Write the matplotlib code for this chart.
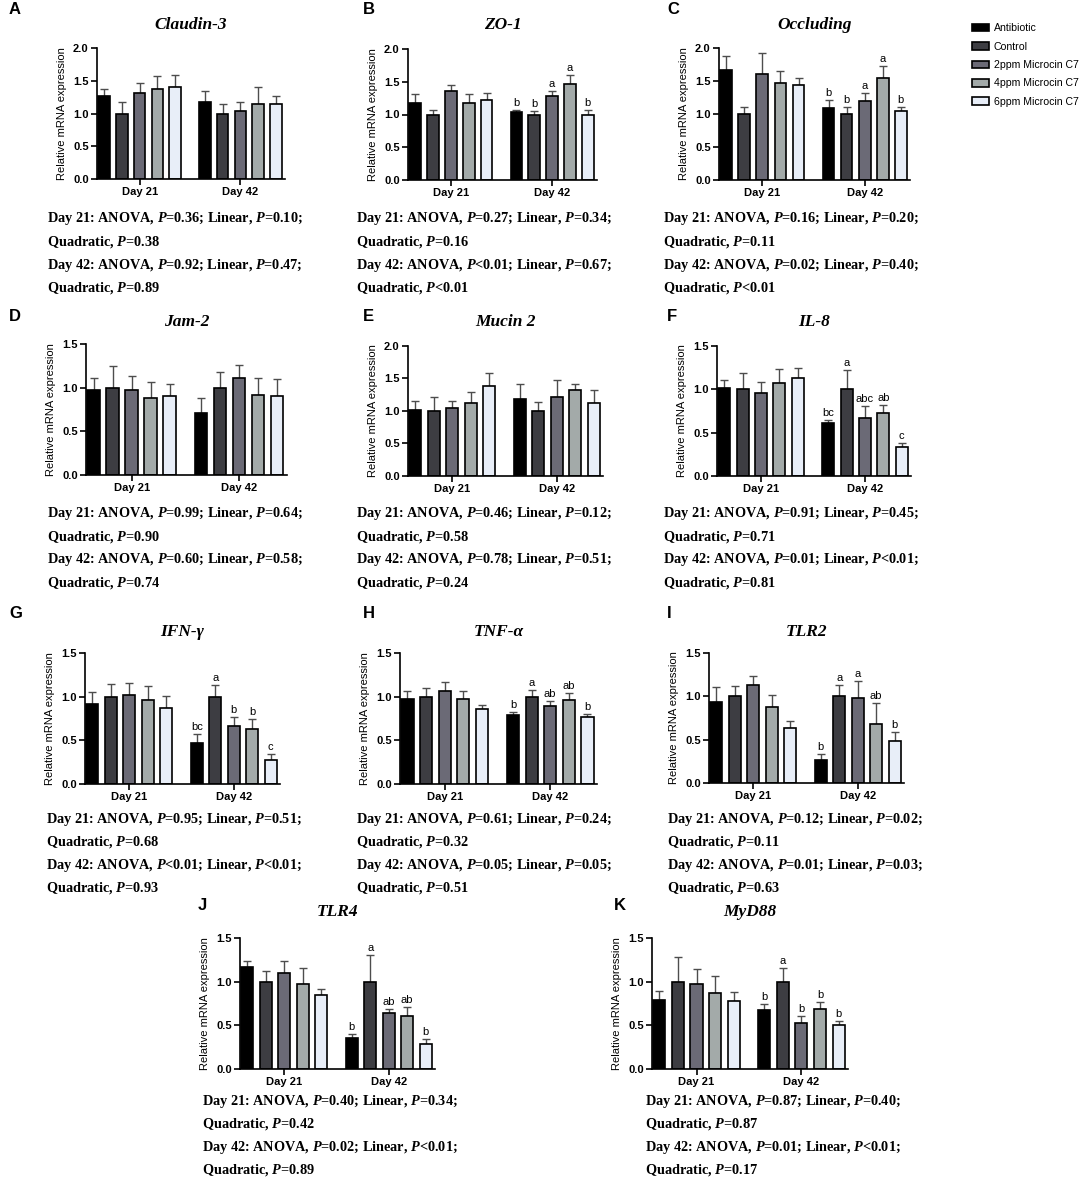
import numpy as np
import matplotlib
matplotlib.use('Agg')
import matplotlib.pyplot as plt
from matplotlib.patches import Patch

plt.rcParams['font.family'] = ['Liberation Sans', 'DejaVu Sans']
plt.rcParams['mathtext.fontset'] = 'custom'
plt.rcParams['mathtext.rm'] = 'Liberation Serif:bold'
plt.rcParams['mathtext.it'] = 'Liberation Serif:bold:italic'
plt.rcParams['mathtext.bf'] = 'Liberation Serif:bold'

# ---------------- data ----------------
groups = ['Antibiotic', 'Control', '2ppm Microcin C7', '4ppm Microcin C7', '6ppm Microcin C7']
days = ['Day 21', 'Day 42']

claudin3_d21 = [1.26, 1.00, 1.32, 1.37, 1.40]
claudin3_d21_sem = [0.11, 0.17, 0.14, 0.21, 0.19]
claudin3_d42 = [1.18, 1.00, 1.04, 1.15, 1.15]
claudin3_d42_sem = [0.16, 0.14, 0.13, 0.25, 0.12]
claudin3_letters = ['', '', '', '', '']

zo1_d21 = [1.18, 1.00, 1.36, 1.17, 1.22]
zo1_d21_sem = [0.13, 0.07, 0.09, 0.14, 0.11]
zo1_d42 = [1.04, 1.00, 1.28, 1.46, 1.00]
zo1_d42_sem = [0.03, 0.06, 0.08, 0.14, 0.07]
zo1_letters = ['b', 'b', 'a', 'a', 'b']

occ_d21 = [1.67, 1.00, 1.61, 1.47, 1.44]
occ_d21_sem = [0.21, 0.11, 0.31, 0.18, 0.11]
occ_d42 = [1.09, 1.00, 1.20, 1.54, 1.04]
occ_d42_sem = [0.12, 0.10, 0.12, 0.19, 0.06]
occ_letters = ['b', 'b', 'a', 'a', 'b']

jam2_d21 = [0.97, 1.00, 0.97, 0.88, 0.90]
jam2_d21_sem = [0.14, 0.25, 0.16, 0.18, 0.14]
jam2_d42 = [0.71, 1.00, 1.11, 0.92, 0.91]
jam2_d42_sem = [0.17, 0.18, 0.15, 0.19, 0.19]
jam2_letters = ['', '', '', '', '']

muc2_d21 = [1.01, 1.00, 1.05, 1.13, 1.38]
muc2_d21_sem = [0.15, 0.22, 0.10, 0.16, 0.21]
muc2_d42 = [1.19, 1.00, 1.22, 1.32, 1.13]
muc2_d42_sem = [0.23, 0.14, 0.25, 0.10, 0.19]
muc2_letters = ['', '', '', '', '']

il8_d21 = [1.02, 1.00, 0.96, 1.07, 1.13]
il8_d21_sem = [0.09, 0.19, 0.13, 0.16, 0.12]
il8_d42 = [0.61, 1.00, 0.67, 0.73, 0.34]
il8_d42_sem = [0.04, 0.22, 0.14, 0.09, 0.04]
il8_letters = ['bc', 'a', 'abc', 'ab', 'c']

ifng_d21 = [0.92, 1.00, 1.02, 0.96, 0.87]
ifng_d21_sem = [0.13, 0.15, 0.14, 0.16, 0.14]
ifng_d42 = [0.47, 1.00, 0.66, 0.63, 0.28]
ifng_d42_sem = [0.10, 0.13, 0.11, 0.12, 0.06]
ifng_letters = ['bc', 'a', 'b', 'b', 'c']

tnfa_d21 = [0.97, 1.00, 1.07, 0.97, 0.86]
tnfa_d21_sem = [0.09, 0.10, 0.10, 0.09, 0.05]
tnfa_d42 = [0.79, 1.00, 0.89, 0.96, 0.77]
tnfa_d42_sem = [0.04, 0.08, 0.06, 0.08, 0.03]
tnfa_letters = ['b', 'a', 'ab', 'ab', 'b']

tlr2_d21 = [0.93, 1.00, 1.13, 0.88, 0.64]
tlr2_d21_sem = [0.18, 0.12, 0.11, 0.14, 0.08]
tlr2_d42 = [0.27, 1.00, 0.98, 0.68, 0.49]
tlr2_d42_sem = [0.07, 0.13, 0.20, 0.24, 0.10]
tlr2_letters = ['b', 'a', 'a', 'ab', 'b']

tlr4_d21 = [1.17, 1.00, 1.10, 0.97, 0.85]
tlr4_d21_sem = [0.07, 0.12, 0.14, 0.19, 0.07]
tlr4_d42 = [0.35, 1.00, 0.64, 0.61, 0.29]
tlr4_d42_sem = [0.05, 0.31, 0.05, 0.10, 0.05]
tlr4_letters = ['b', 'a', 'ab', 'ab', 'b']

myd88_d21 = [0.79, 1.00, 0.97, 0.87, 0.78]
myd88_d21_sem = [0.10, 0.28, 0.17, 0.19, 0.10]
myd88_d42 = [0.67, 1.00, 0.53, 0.69, 0.50]
myd88_d42_sem = [0.08, 0.16, 0.08, 0.08, 0.05]
myd88_letters = ['b', 'a', 'b', 'b', 'b']

stats_claudin3 = ["Day 21: ANOVA, $P$=0.36; Linear, $P$=0.10;", "Quadratic, $P$=0.38",
                  "Day 42: ANOVA, $P$=0.92; Linear, $P$=0.47;", "Quadratic, $P$=0.89"]
stats_zo1 = ["Day 21: ANOVA, $P$=0.27; Linear, $P$=0.34;", "Quadratic, $P$=0.16",
             "Day 42: ANOVA, $P$<0.01; Linear, $P$=0.67;", "Quadratic, $P$<0.01"]
stats_occ = ["Day 21: ANOVA, $P$=0.16; Linear, $P$=0.20;", "Quadratic, $P$=0.11",
             "Day 42: ANOVA, $P$=0.02; Linear, $P$=0.40;", "Quadratic, $P$<0.01"]
stats_jam2 = ["Day 21: ANOVA, $P$=0.99; Linear, $P$=0.64;", "Quadratic, $P$=0.90",
              "Day 42: ANOVA, $P$=0.60; Linear, $P$=0.58;", "Quadratic, $P$=0.74"]
stats_muc2 = ["Day 21: ANOVA, $P$=0.46; Linear, $P$=0.12;", "Quadratic, $P$=0.58",
              "Day 42: ANOVA, $P$=0.78; Linear, $P$=0.51;", "Quadratic, $P$=0.24"]
stats_il8 = ["Day 21: ANOVA, $P$=0.91; Linear, $P$=0.45;", "Quadratic, $P$=0.71",
             "Day 42: ANOVA, $P$=0.01; Linear, $P$<0.01;", "Quadratic, $P$=0.81"]
stats_ifng = ["Day 21: ANOVA, $P$=0.95; Linear, $P$=0.51;", "Quadratic, $P$=0.68",
              "Day 42: ANOVA, $P$<0.01; Linear, $P$<0.01;", "Quadratic, $P$=0.93"]
stats_tnfa = ["Day 21: ANOVA, $P$=0.61; Linear, $P$=0.24;", "Quadratic, $P$=0.32",
              "Day 42: ANOVA, $P$=0.05; Linear, $P$=0.05;", "Quadratic, $P$=0.51"]
stats_tlr2 = ["Day 21: ANOVA, $P$=0.12; Linear, $P$=0.02;", "Quadratic, $P$=0.11",
              "Day 42: ANOVA, $P$=0.01; Linear, $P$=0.03;", "Quadratic, $P$=0.63"]
stats_tlr4 = ["Day 21: ANOVA, $P$=0.40; Linear, $P$=0.34;", "Quadratic, $P$=0.42",
              "Day 42: ANOVA, $P$=0.02; Linear, $P$<0.01;", "Quadratic, $P$=0.89"]
stats_myd88 = ["Day 21: ANOVA, $P$=0.87; Linear, $P$=0.40;", "Quadratic, $P$=0.87",
               "Day 42: ANOVA, $P$=0.01; Linear, $P$<0.01;", "Quadratic, $P$=0.17"]

colors = ['#000000', '#3d3d42', '#6b6a76', '#a3aaa9', '#e8eef8']

W, H = 1084, 1182
fig = plt.figure(figsize=(W / 100, H / 100), dpi=100)

# layout (pixel boxes: left, top, right, bottom), title y, letter pos, text x, text y
panels = [
    ('A', 'Claudin-3', claudin3_d21, claudin3_d21_sem, claudin3_d42, claudin3_d42_sem, claudin3_letters, 2.0,
     (97, 48, 285, 179), 25, (9, 10), stats_claudin3, (47, 219)),
    ('B', 'ZO-1', zo1_d21, zo1_d21_sem, zo1_d42, zo1_d42_sem, zo1_letters, 2.0,
     (408, 49, 597, 180), 25, (363, 10), stats_zo1, (356, 219)),
    ('C', 'Occluding', occ_d21, occ_d21_sem, occ_d42, occ_d42_sem, occ_letters, 2.0,
     (719, 48, 910, 180), 25, (667, 10), stats_occ, (663, 219)),
    ('D', 'Jam-2', jam2_d21, jam2_d21_sem, jam2_d42, jam2_d42_sem, jam2_letters, 1.5,
     (86, 344, 287, 475), 322, (9, 316), stats_jam2, (47, 514)),
    ('E', 'Mucin 2', muc2_d21, muc2_d21_sem, muc2_d42, muc2_d42_sem, muc2_letters, 2.0,
     (408, 346, 603, 476), 322, (363, 316), stats_muc2, (356, 514)),
    ('F', 'IL-8', il8_d21, il8_d21_sem, il8_d42, il8_d42_sem, il8_letters, 1.5,
     (717, 346, 911, 476), 322, (667, 316), stats_il8, (663, 514)),
    ('G', 'IFN-γ', ifng_d21, ifng_d21_sem, ifng_d42, ifng_d42_sem, ifng_letters, 1.5,
     (85, 653, 280, 784), 632, (9, 613), stats_ifng, (46, 819)),
    ('H', 'TNF-α', tnfa_d21, tnfa_d21_sem, tnfa_d42, tnfa_d42_sem, tnfa_letters, 1.5,
     (400, 653, 597, 784), 632, (363, 613), stats_tnfa, (356, 819)),
    ('I', 'TLR2', tlr2_d21, tlr2_d21_sem, tlr2_d42, tlr2_d42_sem, tlr2_letters, 1.5,
     (709, 653, 904, 783), 632, (667, 613), stats_tlr2, (667, 819)),
    ('J', 'TLR4', tlr4_d21, tlr4_d21_sem, tlr4_d42, tlr4_d42_sem, tlr4_letters, 1.5,
     (240, 938, 435, 1069), 912, (198, 905), stats_tlr4, (202, 1101)),
    ('K', 'MyD88', myd88_d21, myd88_d21_sem, myd88_d42, myd88_d42_sem, myd88_letters, 1.5,
     (652, 938, 848, 1069), 912, (614, 905), stats_myd88, (645, 1101)),
]

group_centers = [0.0, 5.66]
bar_w = 0.65

for (plab, title, m21, s21, m42, s42, lets, ymax, box, ty, lpos, stats, tpos) in panels:
    l, t, r, b = box
    ax = fig.add_axes([l / W, 1 - b / H, (r - l) / W, (b - t) / H])
    for gi, (means, sems) in enumerate([(m21, s21), (m42, s42)]):
        x = group_centers[gi] + np.arange(5) - 2
        means = np.array(means)
        sems = np.array(sems)
        ax.errorbar(x, means, yerr=[np.zeros(5), sems], fmt='none', ecolor='#4d4d4d',
                    elinewidth=1.0, capsize=3.2, capthick=1.0, zorder=1)
        ax.bar(x, means, width=bar_w, color=colors, edgecolor='black', linewidth=1.2, zorder=2)
        if gi == 1:
            for xi, mi, si, lt in zip(x, means, sems, lets):
                if lt:
                    ax.text(xi, mi + si + 0.015 * ymax, lt, ha='center', va='bottom',
                            fontsize=8, family=['Liberation Sans', 'DejaVu Sans'])
    ax.set_xlim(-2.40, 8.17)
    ax.set_ylim(0, ymax)
    ax.set_yticks(np.arange(0, ymax + 0.01, 0.5))
    ax.set_yticklabels(['%.1f' % v for v in np.arange(0, ymax + 0.01, 0.5)],
                       fontsize=8, fontweight='bold')
    ax.set_xticks(group_centers)
    ax.set_xticklabels(days, fontsize=8, fontweight='bold')
    for sp in ['top', 'right']:
        ax.spines[sp].set_visible(False)
    for sp in ['left', 'bottom']:
        ax.spines[sp].set_linewidth(1.2)
    ax.tick_params(direction='out', length=4, width=1.2, pad=2)
    ax.set_ylabel('Relative mRNA expression', fontsize=8, labelpad=4)
    cx = (l + r) / 2
    fig.text(cx / W, 1 - ty / H, title, ha='center', va='center', fontsize=12.5,
             family='Liberation Serif', fontweight='bold', fontstyle='italic')
    fig.text(lpos[0] / W, 1 - lpos[1] / H, plab, ha='left', va='center', fontsize=12,
             fontweight='bold')
    for k, line in enumerate(stats):
        fig.text(tpos[0] / W, 1 - (tpos[1] + 23 * k) / H, line, ha='left', va='center',
                 fontsize=10.3, family='Liberation Serif', fontweight='bold')

handles = [Patch(facecolor=c, edgecolor='black', linewidth=1.2) for c in colors]
fig.legend(handles=handles, labels=groups, loc='upper left',
           bbox_to_anchor=(969 / W, 1 - 20 / H), frameon=False, fontsize=7.6,
           handlelength=1.6, handleheight=0.75, labelspacing=0.8, handletextpad=0.45,
           borderaxespad=0.0, borderpad=0.3)

fig.savefig('out.png', dpi=100)
